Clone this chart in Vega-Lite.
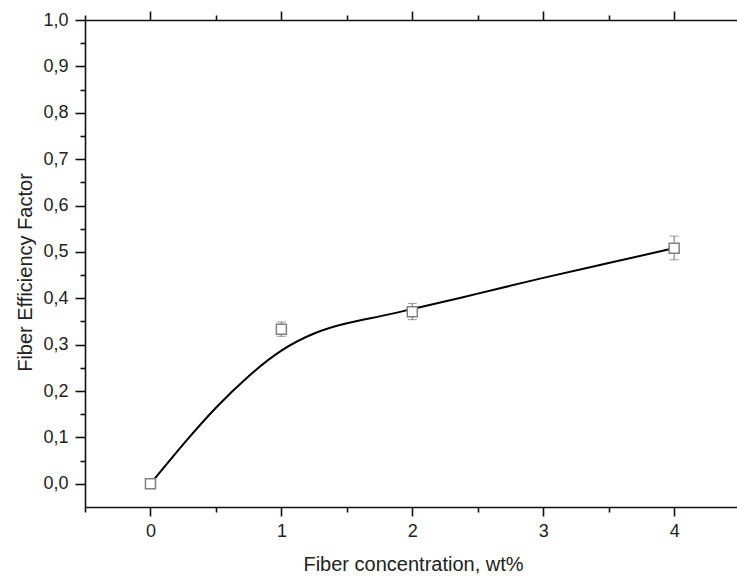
{
  "$schema": "https://vega.github.io/schema/vega-lite/v6.json",
  "width": 652,
  "height": 487,
  "autosize": {"type": "none"},
  "padding": {"left": 85, "top": 20, "right": 0, "bottom": 69},
  "background": "white",
  "config": {
    "view": {"stroke": null},
    "axis": {
      "labelFont": "Liberation Sans",
      "titleFont": "Liberation Sans",
      "labelFontSize": 18,
      "titleFontSize": 20,
      "titleFontWeight": "normal",
      "labelColor": "#222222",
      "titleColor": "#222222",
      "domainColor": "#111111",
      "domainWidth": 1.6,
      "tickColor": "#111111",
      "tickWidth": 1.6,
      "grid": false
    }
  },
  "datasets": {
    "curve": [
      {"x": 0, "y": 0},
      {"x": 0.25, "y": 0.085},
      {"x": 0.5, "y": 0.164},
      {"x": 0.75, "y": 0.232},
      {"x": 1.0, "y": 0.287},
      {"x": 1.25, "y": 0.324},
      {"x": 1.5, "y": 0.346},
      {"x": 1.75, "y": 0.361},
      {"x": 2.0, "y": 0.377},
      {"x": 2.5, "y": 0.41},
      {"x": 3.0, "y": 0.444},
      {"x": 3.5, "y": 0.476},
      {"x": 4.0, "y": 0.508}
    ],
    "points": [
      {"x": 0, "y": 0, "lo": 0, "hi": 0},
      {"x": 1, "y": 0.333, "lo": 0.318, "hi": 0.349},
      {"x": 2, "y": 0.371, "lo": 0.354, "hi": 0.389},
      {"x": 4, "y": 0.508, "lo": 0.483, "hi": 0.534}
    ]
  },
  "layer": [
    {
      "data": {"name": "curve"},
      "mark": {"type": "line", "color": "#000000", "strokeWidth": 2, "interpolate": "natural"},
      "encoding": {
        "x": {
          "field": "x", "type": "quantitative",
          "scale": {"domain": [-0.5, 4.48], "nice": false, "zero": false},
          "axis": {"orient": "bottom", "values": [0, 1, 2, 3, 4], "tickSize": 9, "labelPadding": 6,
                   "title": "Fiber concentration, wt%", "titleBaseline": "alphabetic", "titleY": 63, "titleX": 328}
        },
        "y": {
          "field": "y", "type": "quantitative",
          "scale": {"domain": [-0.05, 1.0], "nice": false, "zero": false},
          "axis": {"orient": "left", "values": [0, 0.1, 0.2, 0.3, 0.4, 0.5, 0.6, 0.7, 0.8, 0.9, 1.0],
                   "tickSize": 10, "labelPadding": 7,
                   "labelExpr": "replace(format(datum.value, '.1f'), '.', ',')",
                   "title": "Fiber Efficiency Factor", "titleX": -50, "titleY": 252}
        }
      }
    },
    {
      "data": {"name": "points"},
      "mark": {"type": "rule", "color": "#707070", "strokeWidth": 1},
      "encoding": {
        "x": {
          "field": "x", "type": "quantitative",
          "axis": {"orient": "bottom", "values": [-0.5, 0.5, 1.5, 2.5, 3.5], "tickSize": 5, "labels": false, "domain": false, "title": null}
        },
        "y": {
          "field": "lo", "type": "quantitative",
          "axis": {"orient": "left", "values": [0.05, 0.15, 0.25, 0.35, 0.45, 0.55, 0.65, 0.75, 0.85, 0.95],
                   "tickSize": 5, "labels": false, "domain": false, "title": null}
        },
        "y2": {"field": "hi"}
      }
    },
    {
      "data": {"name": "points"},
      "mark": {"type": "tick", "orient": "horizontal", "size": 9, "thickness": 1, "color": "#707070"},
      "encoding": {
        "x": {
          "field": "x", "type": "quantitative",
          "axis": {"orient": "top", "values": [0, 1, 2, 3, 4], "tickSize": 9, "labels": false, "title": null}
        },
        "y": {"field": "lo", "type": "quantitative", "axis": null}
      }
    },
    {
      "data": {"name": "points"},
      "mark": {"type": "tick", "orient": "horizontal", "size": 9, "thickness": 1, "color": "#707070"},
      "encoding": {
        "x": {
          "field": "x", "type": "quantitative",
          "axis": {"orient": "top", "values": [-0.5, 0.5, 1.5, 2.5, 3.5], "tickSize": 5, "labels": false, "domain": false, "title": null}
        },
        "y": {"field": "hi", "type": "quantitative", "axis": null}
      }
    },
    {
      "data": {"name": "points"},
      "mark": {"type": "point", "shape": "square", "filled": true, "fill": "#ffffff", "stroke": "#808080", "strokeWidth": 1.5, "size": 100, "opacity": 1},
      "encoding": {
        "x": {"field": "x", "type": "quantitative", "axis": null},
        "y": {"field": "y", "type": "quantitative", "axis": null}
      }
    }
  ],
  "resolve": {"axis": {"x": "independent", "y": "independent"}}
}
